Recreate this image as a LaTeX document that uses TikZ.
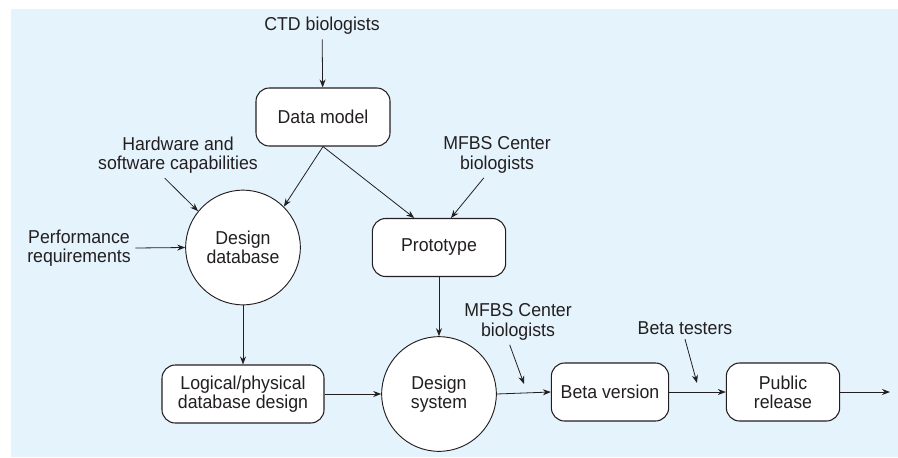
\documentclass[tikz,border=0pt]{standalone}
\usepackage{fontspec}
\setmainfont{Liberation Sans}[FakeStretch=0.95]
\usepackage{tikz}
\usetikzlibrary{arrows.meta}
\definecolor{paleblue}{RGB}{229,244,252}
\definecolor{ink}{RGB}{35,31,32}
\tikzset{stage/.style={draw=ink,fill=white,rounded corners=10pt,line width=0.8pt,minimum height=43.5pt,align=center,text=ink},
	task/.style={draw=ink,fill=white,circle,line width=0.7pt,minimum size=86pt,inner sep=0pt,align=center,text=ink},
	actor/.style={align=center,text=ink},
	flow/.style={-{Stealth[length=6pt,width=4.5pt]},color=ink,line width=0.6pt}}

\begin{document}
\begin{tikzpicture}[x=0.75pt,y=-0.75pt,every node/.style={font=\fontsize{14}{14.5}\selectfont}]
			\useasboundingbox (0,0) rectangle (898,457);
			\fill[paleblue] (11,9) rectangle (898,457);

			\node[actor] (ctd) at (322,26) {CTD biologists};
			\node[stage,minimum width=100.5pt] (dm) at (323,117) {Data model};
			\node[actor] (hw) at (178,155) {Hardware and\\software capabilities};
			\node[task] (ddb) at (243,247.5) {Design\\database};
			\node[actor] (perf) at (79,248) {Performance\\requirements};
			\node[actor] (mfbsA) at (497,155) {MFBS Center\\biologists};
			\node[stage,minimum width=100pt] (proto) at (439,247.5) {Prototype};
			\node[stage,minimum width=121.5pt] (ldd) at (243,394) {Logical/physical\\database design};
			\node[task] (ds) at (439,394) {Design\\system};
			\node[actor] (mfbsB) at (518,322) {MFBS Center\\biologists};
			\node[stage,minimum width=88pt] (beta) at (610,392) {Beta version};
			\node[actor] (bt) at (685,328) {Beta testers};
			\node[stage,minimum width=85pt] (pub) at (783,392) {Public\\release};
			\coordinate (mfbsB tip) at (524,384);
			\coordinate (bt tip) at (697,383);
			\coordinate (out) at (890,392);

			\path [flow](ctd) edge (dm);
			\path [flow](dm.south) edge (ddb.45);
			\path [flow](dm.south) edge (proto.130);
			\path [flow](hw.240) edge (ddb.141);
			\path [flow](perf.east) edge (ddb.west);
			\path [flow](mfbsA.240) edge (proto.68);
			\path [flow](ddb) edge (ldd);
			\path [flow](proto) edge (ds);
			\path [flow](ldd) edge (ds);
			\path [flow](ds.east) edge (beta.west);
			\path [flow](mfbsB.250) edge (mfbsB tip);
			\path [flow](beta) edge (pub);
			\path [flow](bt.south) edge (bt tip);
			\path [flow](pub) edge (out);
		\end{tikzpicture}
\end{document}
